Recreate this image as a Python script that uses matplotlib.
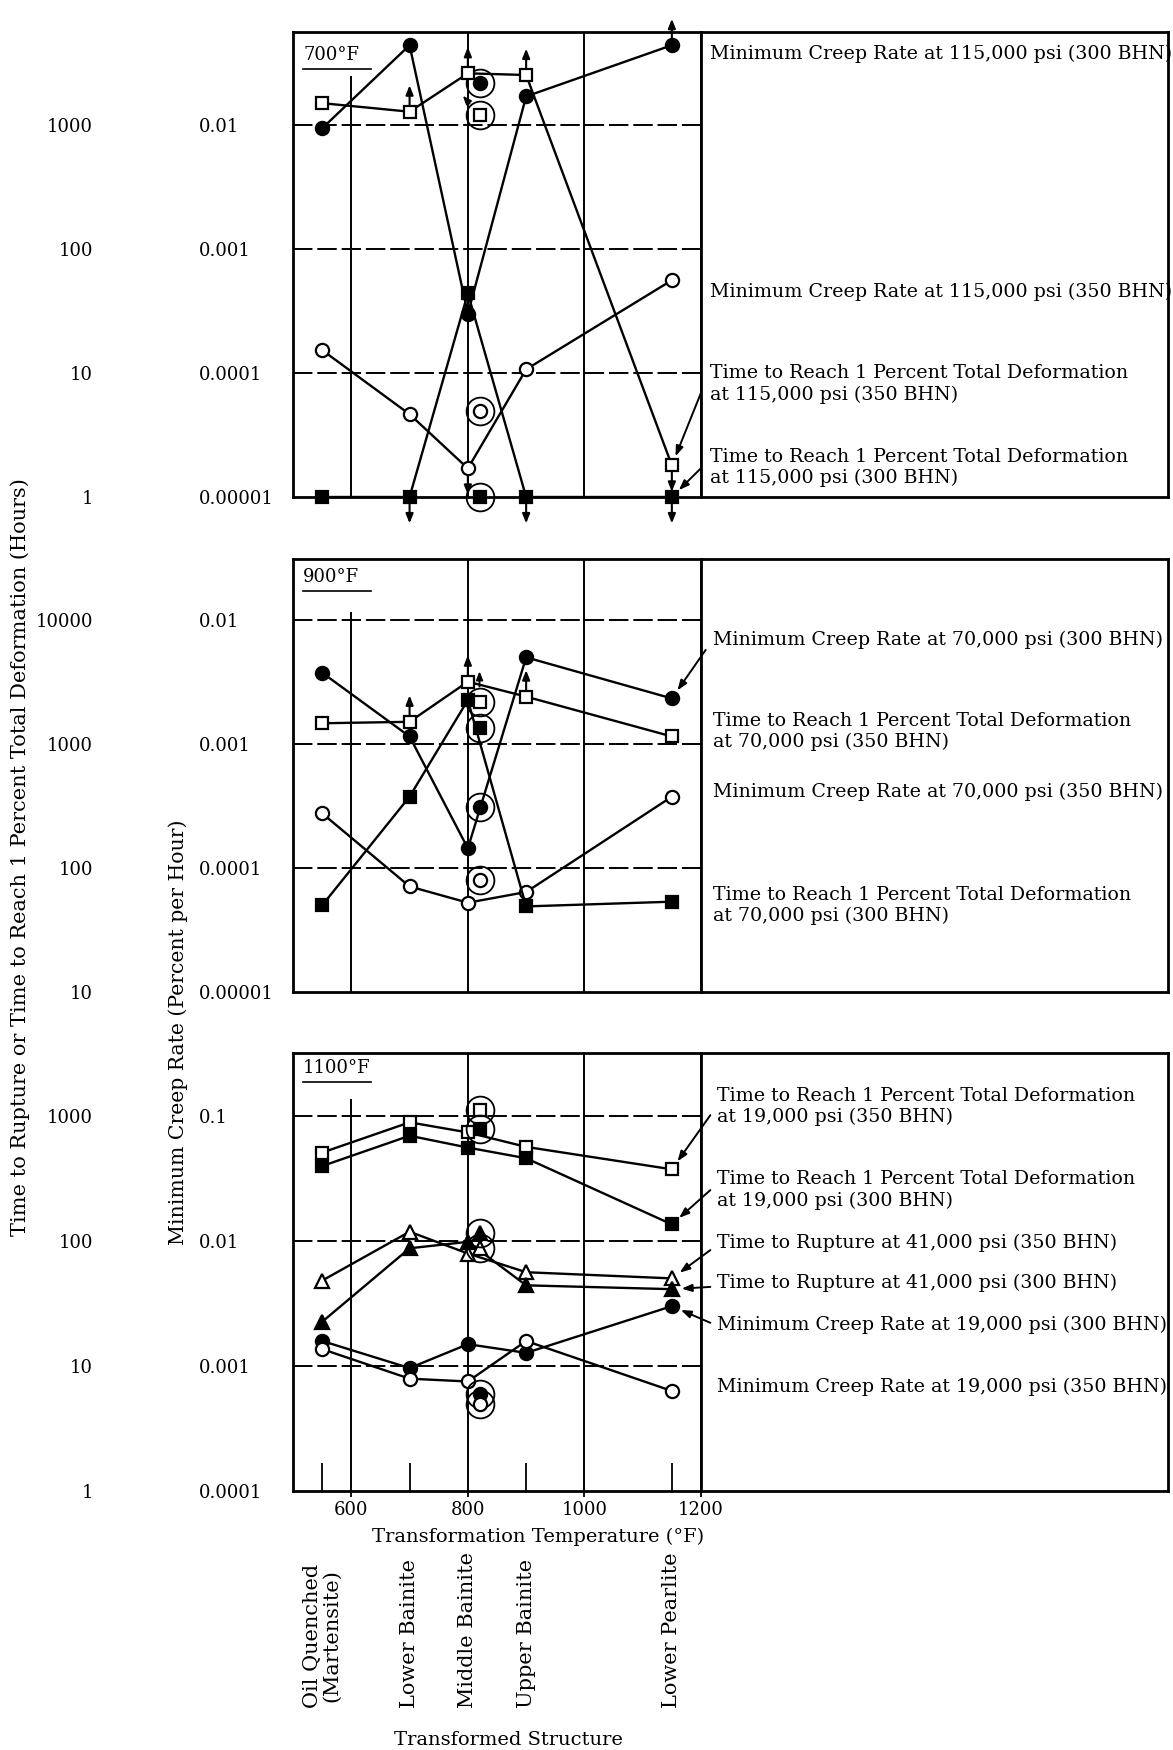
import matplotlib.pyplot as plt
from matplotlib.ticker import NullLocator
from matplotlib.transforms import blended_transform_factory

plt.rcParams['font.family'] = ['DejaVu Serif']

# transformation temperature of each structure (deg F)
temps = [550, 700, 800, 900, 1150]
circled_temp = 820
structures = ['Oil Quenched\n(Martensite)', 'Lower Bainite', 'Middle Bainite',
              'Upper Bainite', 'Lower Pearlite']

# --- 700 F, 115,000 psi ---
mcr_700_300 = [0.0094, 0.044, 0.0003, 0.017, 0.044]        # percent per hour
mcr_700_300_circ = 0.0217
mcr_700_350 = [1.53e-4, 4.65e-5, 1.7e-5, 1.07e-4, 5.6e-4]
mcr_700_350_circ = 4.9e-5
t1_700_350 = [1500, 1280, 2610, 2530, 1.8]                 # hours
t1_700_350_circ = 1200
t1_700_300 = [1, 1, 44, 1, 1]
t1_700_300_circ = 1

# --- 900 F, 70,000 psi ---
mcr_900_300 = [0.00376, 0.00115, 1.44e-4, 0.0050, 0.00233]
mcr_900_300_circ = 3.1e-4
mcr_900_350 = [2.76e-4, 7.1e-5, 5.25e-5, 6.4e-5, 3.76e-4]
mcr_900_350_circ = 8.0e-5
t1_900_350 = [1470, 1510, 3180, 2410, 1150]
t1_900_350_circ = 2190
t1_900_300 = [50, 376, 2260, 49, 53.5]
t1_900_300_circ = 1340

# --- 1100 F, 19,000 / 41,000 psi ---
t1_1100_350 = [506, 883, 733, 562, 372]
t1_1100_350_circ = 1100
t1_1100_300 = [395, 690, 555, 456, 135]
t1_1100_300_circ = 780
tr_1100_350 = [48, 118, 79, 56, 50]
tr_1100_350_circ = 87
tr_1100_300 = [22.5, 87, 98, 44, 41]
tr_1100_300_circ = 115
mcr_1100_300 = [0.00158, 0.00096, 0.00149, 0.00127, 0.0030]
mcr_1100_300_circ = 0.0006
mcr_1100_350 = [0.00136, 0.00079, 0.00075, 0.00158, 0.00063]
mcr_1100_350_circ = 0.0005

# arrows on points: 1 = greater than, -1 = less than
arr_700_mcr300 = [0, 0, 0, 0, 1]
arr_700_mcr350 = [0, 0, -1, 0, 0]
arr_700_t350 = [0, 1, 1, 1, -1]
arr_700_t300 = [0, -1, 0, -1, -1]
arr_900_t350 = [0, 1, 1, 1, 0]

W, H = 1173, 1750
fig = plt.figure(figsize=(W / 100, H / 100), dpi=100)
FS = 13
BOX_FS = 13.7


def rect(x0, y0, x1, y1):
    return [x0 / W, 1 - y1 / H, (x1 - x0) / W, (y1 - y0) / H]


def draw_arrow(ax, x, y, d, length=19):
    if d == 0:
        return
    ax.annotate('', xy=(x, y), xytext=(0, d * length), textcoords='offset points',
                arrowprops=dict(arrowstyle='<|-,head_length=0.55,head_width=0.22',
                                color='black', lw=1.5, shrinkA=0, shrinkB=5))


def series(ax, vals, circ, marker, filled, arrows=None, circ_arrow=None):
    fc = 'black' if filled else 'white'
    ms = {'o': 9.5, 's': 8.5, '^': 10}[marker]
    ax.plot(temps, vals, color='black', lw=1.7, marker=marker, ms=ms, mfc=fc,
            mec='black', mew=1.6, clip_on=False, zorder=3)
    if circ is not None:
        ax.plot([circled_temp], [circ], ls='none', marker=marker, ms=ms, mfc=fc,
                mec='black', mew=1.6, clip_on=False, zorder=4)
        ax.plot([circled_temp], [circ], ls='none', marker='o', ms=20, mfc='none',
                mec='black', mew=1.3, clip_on=False, zorder=4)
    if arrows:
        for x, v, d in zip(temps, vals, arrows):
            draw_arrow(ax, x, v, d)
    if circ_arrow:
        ax.annotate('', xy=(circled_temp, circ), xytext=circ_arrow,
                    textcoords='offset points',
                    arrowprops=dict(arrowstyle='<|-,head_length=0.5,head_width=0.2',
                                    color='black', lw=1.3, shrinkA=0, shrinkB=11))


def panel(y0, y1, ylim, k, creep_ticks, creep_labels, hour_labels, temp_label,
          label_y, grid600_top, show_x=False):
    ax = fig.add_axes(rect(293, y0, 701, y1))
    ax.set_xlim(500, 1200)
    ax.set_yscale('log')
    ax.set_ylim(*ylim)
    ax.yaxis.set_minor_locator(NullLocator())
    ax.set_yticks(creep_ticks, labels=creep_labels, ha='left', fontsize=FS)
    ax.tick_params(axis='y', length=0, pad=68)
    for s in ax.spines.values():
        s.set_linewidth(2)

    axh = ax.twinx()
    axh.set_yscale('log')
    axh.set_ylim(ylim[0] * k, ylim[1] * k)
    axh.yaxis.set_ticks_position('left')
    axh.yaxis.set_minor_locator(NullLocator())
    axh.set_yticks([c * k for c in creep_ticks], labels=hour_labels, fontsize=FS)
    axh.tick_params(axis='y', length=0, pad=144)
    for s in axh.spines.values():
        s.set_visible(False)

    # grid
    for c in creep_ticks[:3]:
        ax.axhline(c, color='black', lw=1.4, ls=(0, (10, 2.5)), zorder=1)
    ax.axvline(600, ymax=grid600_top, color='black', lw=1.4, zorder=1)
    for g in [800, 1000]:
        ax.axvline(g, color='black', lw=1.4, zorder=1)

    ax.text(0.025, label_y, temp_label, transform=ax.transAxes, fontsize=FS,
            va='bottom', ha='left')
    ax.plot([0.025, 0.19], [label_y - 0.012, label_y - 0.012], color='black',
            lw=1.2, transform=ax.transAxes)

    if show_x:
        ax.set_xticks([600, 800, 1000, 1200], labels=['600', '800', '1000', '1200'],
                      fontsize=FS)
        ax.set_xticks(temps[:2] + temps[3:], minor=True)
        ax.tick_params(axis='x', which='major', direction='out', length=4, width=1.3,
                       pad=3)
        ax.tick_params(axis='x', which='minor', direction='in', length=20, width=1.3)
    else:
        ax.set_xticks([])

    box = fig.add_axes(rect(701, y0, 1168, y1))
    box.set_xticks([])
    box.set_yticks([])
    for s in box.spines.values():
        s.set_linewidth(2)
    return ax, axh, box


def box_text(box, x, y, s):
    box.text(x, y, s, transform=box.transAxes, fontsize=BOX_FS, ha='left',
             va='center', linespacing=1.2)


def label_arrow(box, ax, start, target):
    box.annotate('', xy=target, xycoords=ax.transData, xytext=start,
                 textcoords=box.transAxes, annotation_clip=False,
                 arrowprops=dict(arrowstyle='-|>,head_length=0.6,head_width=0.22',
                                 color='black', lw=1.4, shrinkA=0, shrinkB=7))


# ---------------- 700 F ----------------
ax, axh, box = panel(32, 497, (1e-5, 10 ** -1.25), 1e5,
                     [1e-2, 1e-3, 1e-4, 1e-5], ['0.01', '0.001', '0.0001', '0.00001'],
                     ['1000', '100', '10', '1'], '700°F', 0.932, 0.903)
series(ax, mcr_700_300, mcr_700_300_circ, 'o', True, arr_700_mcr300)
series(ax, mcr_700_350, mcr_700_350_circ, 'o', False, arr_700_mcr350)
series(axh, t1_700_350, t1_700_350_circ, 's', False, arr_700_t350, circ_arrow=(-12, 14))
series(axh, t1_700_300, t1_700_300_circ, 's', True, arr_700_t300)
box_text(box, 0.019, 0.953, 'Minimum Creep Rate at 115,000 psi (300 BHN)')
box_text(box, 0.019, 0.4415, 'Minimum Creep Rate at 115,000 psi (350 BHN)')
box_text(box, 0.019, 0.243, 'Time to Reach 1 Percent Total Deformation\nat 115,000 psi (350 BHN)')
box_text(box, 0.019, 0.063, 'Time to Reach 1 Percent Total Deformation\nat 115,000 psi (300 BHN)')
label_arrow(box, axh, (0.0, 0.224), (temps[-1], t1_700_350[-1]))
label_arrow(box, axh, (0.0, 0.062), (temps[-1], t1_700_300[-1]))

# ---------------- 900 F ----------------
ax, axh, box = panel(559, 992, (1e-5, 10 ** -1.508), 1e6,
                     [1e-2, 1e-3, 1e-4, 1e-5], ['0.01', '0.001', '0.0001', '0.00001'],
                     ['10000', '1000', '100', '10'], '900°F', 0.938, 0.876)
series(ax, mcr_900_300, mcr_900_300_circ, 'o', True)
series(ax, mcr_900_350, mcr_900_350_circ, 'o', False)
series(axh, t1_900_350, t1_900_350_circ, 's', False, arr_900_t350, circ_arrow=(0, 22))
series(axh, t1_900_300, t1_900_300_circ, 's', True)
box_text(box, 0.026, 0.813, 'Minimum Creep Rate at 70,000 psi (300 BHN)')
box_text(box, 0.026, 0.601, 'Time to Reach 1 Percent Total Deformation\nat 70,000 psi (350 BHN)')
box_text(box, 0.026, 0.4626, 'Minimum Creep Rate at 70,000 psi (350 BHN)')
box_text(box, 0.026, 0.199, 'Time to Reach 1 Percent Total Deformation\nat 70,000 psi (300 BHN)')
label_arrow(box, ax, (0.01, 0.79), (temps[-1], mcr_900_300[-1]))

# ---------------- 1100 F ----------------
ax, axh, box = panel(1053, 1491, (1e-4, 10 ** -0.5), 1e4,
                     [1e-1, 1e-2, 1e-3, 1e-4], ['0.1', '0.01', '0.001', '0.0001'],
                     ['1000', '100', '10', '1'], '1100°F', 0.945, 0.893, show_x=True)
series(axh, t1_1100_350, t1_1100_350_circ, 's', False)
series(axh, t1_1100_300, t1_1100_300_circ, 's', True)
series(axh, tr_1100_350, tr_1100_350_circ, '^', False)
series(axh, tr_1100_300, tr_1100_300_circ, '^', True)
series(ax, mcr_1100_300, mcr_1100_300_circ, 'o', True)
series(ax, mcr_1100_350, mcr_1100_350_circ, 'o', False)
box_text(box, 0.034, 0.8774, 'Time to Reach 1 Percent Total Deformation\nat 19,000 psi (350 BHN)')
box_text(box, 0.034, 0.6872, 'Time to Reach 1 Percent Total Deformation\nat 19,000 psi (300 BHN)')
box_text(box, 0.034, 0.5655, 'Time to Rupture at 41,000 psi (350 BHN)')
box_text(box, 0.034, 0.4742, 'Time to Rupture at 41,000 psi (300 BHN)')
box_text(box, 0.034, 0.379, 'Minimum Creep Rate at 19,000 psi (300 BHN)')
box_text(box, 0.034, 0.2381, 'Minimum Creep Rate at 19,000 psi (350 BHN)')
label_arrow(box, axh, (0.02, 0.858), (temps[-1], t1_1100_350[-1]))
label_arrow(box, axh, (0.02, 0.687), (temps[-1], t1_1100_300[-1]))
label_arrow(box, axh, (0.02, 0.55), (temps[-1], tr_1100_350[-1]))
label_arrow(box, axh, (0.02, 0.466), (temps[-1], tr_1100_300[-1]))
label_arrow(box, ax, (0.02, 0.384), (temps[-1], mcr_1100_300[-1]))

# axis titles
fig.text(538 / W, 1 - 1537 / H, 'Transformation Temperature (°F)', fontsize=14,
         ha='center', va='center')
trans = blended_transform_factory(ax.transData, fig.transFigure)
for t, s in zip(temps, structures):
    fig.text(t, 1 - 1708 / H, s, transform=trans, rotation=90, ha='center',
             va='bottom', fontsize=15, linespacing=1.0)
fig.text(508 / W, 1 - 1740 / H, 'Transformed Structure', fontsize=14,
         ha='center', va='center')
fig.text(20 / W, 1 - 857 / H,
         'Time to Rupture or Time to Reach 1 Percent Total Deformation (Hours)',
         rotation=90, ha='center', va='center', fontsize=15)
fig.text(178 / W, 1 - 1032 / H, 'Minimum Creep Rate (Percent per Hour)',
         rotation=90, ha='center', va='center', fontsize=14.7)

fig.savefig('out.png', dpi=100)
